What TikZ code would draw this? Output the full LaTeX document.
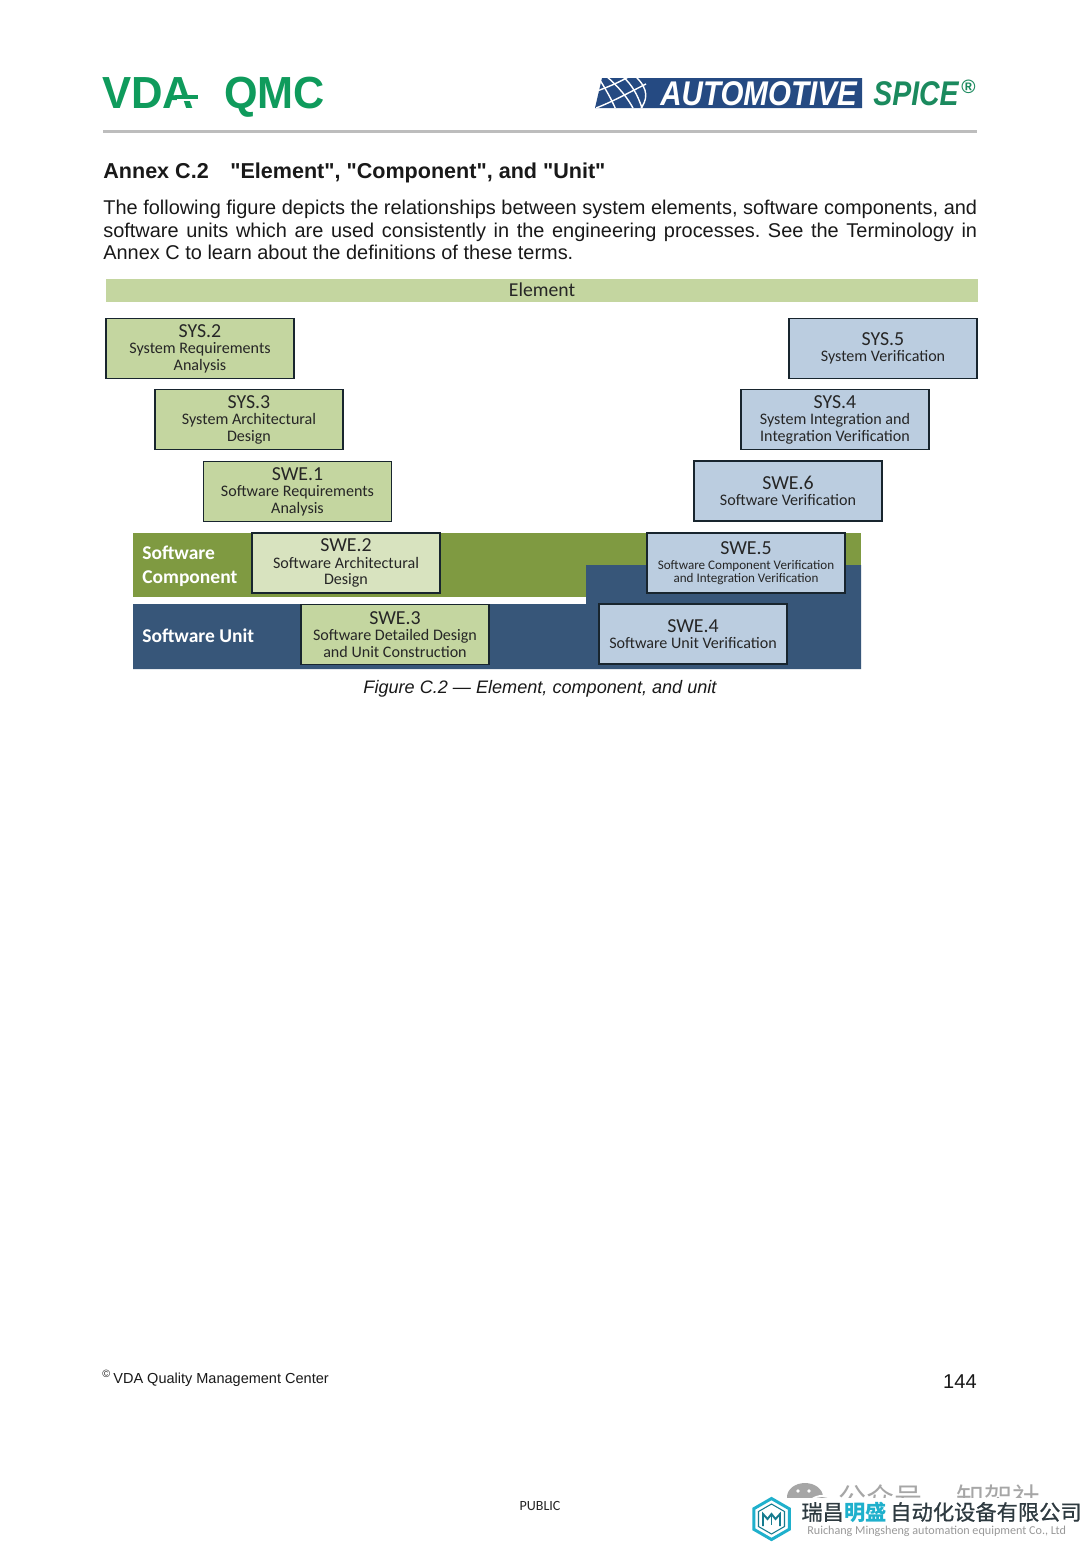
\documentclass[tikz,border=0pt]{standalone}
\usepackage{fontspec}
\usepackage{graphicx}
\usepackage{xcolor}
\setmainfont{Liberation Sans}
\newfontfamily\pageFont{Liberation Sans}
\newfontfamily\boxFont{Carlito}
\newfontfamily\cjkFont{Noto Sans CJK SC}
\newfontfamily\cjkMedium[FakeBold=0.8]{Noto Sans CJK SC}
\definecolor{leafGreen}{HTML}{C4D6A0}
\definecolor{leafLight}{HTML}{D8E3BF}
\definecolor{leafBand}{HTML}{7F9A41}
\definecolor{skyBox}{HTML}{BBCDE0}
\definecolor{navyBand}{HTML}{375679}
\definecolor{boxEdge}{HTML}{18252E}
\definecolor{vdaGreen}{HTML}{0F9B5C}
\definecolor{spiceBlue}{HTML}{254A82}
\definecolor{spiceGreen}{HTML}{1B8A5E}
\definecolor{ruleGrey}{HTML}{BDBDBD}
\definecolor{markTeal}{HTML}{1FB0CC}
\definecolor{markDark}{HTML}{2E3A40}
\usetikzlibrary{positioning,calc,shapes.geometric}
\newcommand{\boxHead}[1]{{\fontsize{11.3}{11}\selectfont #1}}
\tikzset{%
  stepBox/.style={%
    rectangle,
    draw=boxEdge,
    line width=0.7pt,
    inner sep=0pt,
    minimum width=3.76cm,
    minimum height=1.2cm,
    align=center,
    text=black!85,
    font=\boxFont\fontsize{9.15}{9.4}\selectfont
  },
  leftBox/.style={stepBox, fill=leafGreen},
  rightBox/.style={stepBox, fill=skyBox},
  bandLabel/.style={%
    anchor=west,
    inner sep=0pt,
    align=left,
    text=white,
    font=\boxFont\bfseries\fontsize{11.1}{13.6}\selectfont
  },
  pageText/.style={%
    anchor=west,
    inner sep=0pt,
    text=black!90,
    font=\pageFont\fontsize{11.35}{13}\selectfont
  },
  logoText/.style={%
    anchor=base west,
    inner sep=0pt,
    text=vdaGreen,
    font=\pageFont\bfseries\fontsize{25.6}{26}\selectfont
  },
  spiceText/.style={%
    anchor=base west,
    inner sep=0pt,
    font=\pageFont\bfseries\itshape\fontsize{19.5}{19.5}\selectfont
  },
  markText/.style={%
    anchor=west,
    inner sep=0pt,
    font=\cjkMedium\fontsize{12.1}{12.1}\selectfont
  },
  globeLine/.style={white, line width=0.8pt}
}
\begin{document}
\frenchspacing
\begin{tikzpicture}[x=0.02cm,y=-0.02cm]
  \useasboundingbox (0,0) rectangle (1080,1542);
  \fill[white] (0,0) rectangle (1080,1542);

  % page head
  \node[logoText] (vdaLogo) at (102,108) {\scalebox{0.97}[1]{VDA}};
  \node[logoText] (qmcLogo) at (224,108) {\scalebox{0.96}[1]{QMC}};
  \fill[vdaGreen] (175,95) rectangle (198,99);
  \fill[white] (177,99) rectangle (198,101);
  \fill[spiceBlue] (595,108) -- (602,78) -- (862,78) -- (862,108) -- cycle;
  \begin{scope}
    \clip (595,108) -- (602,78) -- (648,78) -- (648,108) -- cycle;
    \draw[globeLine] (606,76) .. controls (618,86) and (628,98) .. (634,110);
    \draw[globeLine] (622,76) .. controls (632,84) and (638,96) .. (642,108);
    \draw[globeLine] (594,92) .. controls (606,88) and (620,82) .. (630,76);
    \draw[globeLine] (596,108) .. controls (612,102) and (630,92) .. (646,84);
    \draw[globeLine] (635,76) .. controls (650,90) and (647,100) .. (640,110);
    \draw[globeLine] (600,80) .. controls (606,90) and (612,100) .. (616,110);
  \end{scope}
  \node[spiceText, text=white] (autoLogo) at (660,105) {\scalebox{0.862}[1]{AUTOMOTIVE}};
  \node[spiceText, text=spiceGreen] (spiceLogo) at (873,105) {\scalebox{0.83}[1]{SPICE}};
  \node[pageText, anchor=center, text=spiceGreen, font=\pageFont\bfseries\fontsize{11}{11}\selectfont] (regMark) at (968.5,87) {®};
  \fill[ruleGrey] (103,130) rectangle (977,132.5);

  % title and lead text
  \node[pageText, font=\pageFont\bfseries\fontsize{12.27}{13}\selectfont] (annexTitle) at (103,173) {Annex C.2\hspace{1em}"Element", "Component", and "Unit"};
  \node[pageText, anchor=north west, text width=17.48cm, align=justify] (leadText) at (103,199.5) {The following figure depicts the relationships between system elements, software components, and software units which are used consistently in the engineering processes. See the Terminology in Annex C to learn about the definitions of these terms.};

  % bands behind the boxes
  \fill[leafBand] (133,532.5) rectangle (861,597);
  \fill[navyBand] (133,604) -- (586,604) -- (586,565) -- (861,565) -- (861,669) -- (133,669) -- cycle;
  \fill[leafGreen] (106,279) rectangle (978,302);
  \node[text=black!85, inner sep=0pt, font=\boxFont\fontsize{11.2}{11}\selectfont] (elementBar) at (542,290) {Element};
  \node[bandLabel] (componentLabel) at (142,566.5) {Software\\Component};
  \node[bandLabel] (unitLabel) at (142,636) {Software Unit};

  % left leg
  \node[leftBox] (sysTwo) at (200,348.5) {\boxHead{SYS.2}\\System Requirements\\Analysis};
  \node[leftBox] (sysThree) at (249,419.5) {\boxHead{SYS.3}\\System Architectural\\Design};
  \node[leftBox] (sweOne) at (297.5,491.5) {\boxHead{SWE.1}\\Software Requirements\\Analysis};
  \node[leftBox, fill=leafLight] (sweTwo) at (346,563) {\boxHead{SWE.2}\\Software Architectural\\Design};
  \node[leftBox] (sweThree) at (395,634.5) {\boxHead{SWE.3}\\Software Detailed Design\\and Unit Construction};

  % right leg
  \node[rightBox] (sysFive) at (883,348.5) {\boxHead{SYS.5}\\System Verification};
  \node[rightBox] (sysFour) at (835,419.5) {\boxHead{SYS.4}\\System Integration and\\Integration Verification};
  \node[rightBox] (sweSix) at (788,491) {\boxHead{SWE.6}\\Software Verification};
  \node[rightBox, minimum width=3.96cm, font=\boxFont\fontsize{7.45}{7.6}\selectfont] (sweFive) at (746,563) {\boxHead{SWE.5}\\[1pt]Software Component Verification\\and Integration Verification};
  \node[rightBox] (sweFour) at (693,634) {\boxHead{SWE.4}\\Software Unit Verification};

  \node[pageText, anchor=center, font=\pageFont\itshape\fontsize{10.3}{12}\selectfont] (figCaption) at (540,689) {Figure C.2 — Element, component, and unit};

  % page foot
  \node[pageText, font=\pageFont\fontsize{6}{6}\selectfont] (copyMark) at (102,1374) {©};
  \node[pageText, font=\pageFont\fontsize{8.26}{10}\selectfont] (footLeft) at (113,1380) {VDA Quality Management Center};
  \node[pageText, anchor=east, font=\pageFont\fontsize{11.4}{12}\selectfont] (pageNum) at (977,1382) {144};
  \node[inner sep=0pt, text=black!85, font=\boxFont\fontsize{8}{9}\selectfont] (publicMark) at (540,1506) {PUBLIC};

  % watermark, cut off by the company line
  \begin{scope}
    \clip (780,1470) rectangle (1060,1497);
    \fill[black!35] (805,1497) ellipse (18 and 14);
    \fill[white] (798,1491) circle (1.8) (809,1491) circle (1.8);
    \fill[white] (822,1507) ellipse (15 and 12);
    \fill[black!35] (822,1507) ellipse (13 and 10);
    \node[pageText, text=black!35, font=\cjkFont\fontsize{16}{16}\selectfont] (wmLeft) at (838,1498) {公众号};
    \node[pageText, text=black!35, font=\cjkFont\fontsize{16}{16}\selectfont] (wmRight) at (956,1498) {知架社};
  \end{scope}
  \node[regular polygon, regular polygon sides=6, shape border rotate=30, draw=markTeal, line width=1.7pt, minimum size=0.82cm, inner sep=0pt] (hexOuter) at (771.5,1519) {};
  \node[regular polygon, regular polygon sides=6, shape border rotate=30, draw=markTeal!70!black, line width=0.6pt, minimum size=0.6cm, inner sep=0pt] (hexInner) at (771.5,1519) {};
  \draw[markTeal!70!black, line width=1.1pt] (763,1526) -- (763,1514) -- (767.5,1519) -- (771.5,1514) -- (775.5,1519) -- (780,1514) -- (780,1526);
  \draw[markTeal!70!black, line width=1.1pt] (771.5,1514) -- (771.5,1525);
  \node[markText, text=markDark] (markOne) at (801,1512) {瑞昌};
  \node[markText, text=markTeal, font=\cjkFont\bfseries\fontsize{12.1}{12.1}\selectfont] (markTwo) at (844,1512) {明盛};
  \node[markText, text=markDark] (markThree) at (890,1512) {自动化设备有限公司};
  \node[pageText, text=black!40, font=\boxFont\fontsize{6.9}{7}\selectfont] (markSub) at (807,1531) {Ruichang Mingsheng automation equipment Co., Ltd};
\end{tikzpicture}
\end{document}
